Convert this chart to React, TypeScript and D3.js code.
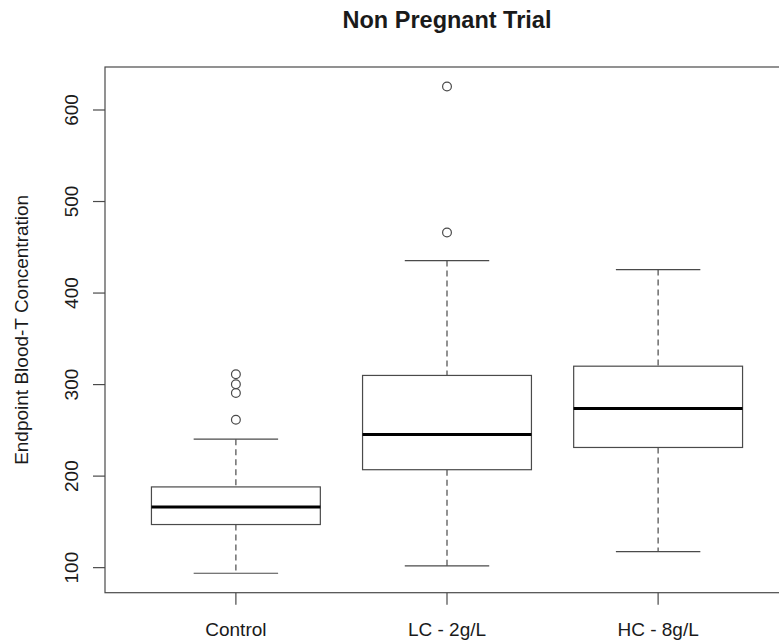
import React from "react";
import * as d3 from "d3";

const categories = ["Control", "LC - 2g/L", "HC - 8g/L"];
const lowerWhisker = [93.9, 102, 117.5];
const q1 = [147.1, 207, 231.3];
const medians = [166.2, 245.5, 274];
const q3 = [188.2, 310, 320.1];
const upperWhisker = [240.4, 435.5, 425.6];
const outliers: number[][] = [
  [261.6, 290.8, 300.3, 311.3],
  [466.2, 625.7],
  [],
];
const yTicks = [100, 200, 300, 400, 500, 600];

const W = 779;
const H = 644;
const left = 105;
const right = 789;
const top = 67;
const bottom = 592.7;
const FONT = "Liberation Sans, Arial, Helvetica, sans-serif";

export default function App() {
  const allVals = [...lowerWhisker, ...upperWhisker, ...outliers.flat()];
  const lo = d3.min(allVals)!;
  const hi = d3.max(allVals)!;
  const pad = (hi - lo) * 0.04;
  const y = d3.scaleLinear().domain([lo - pad, hi + pad]).range([bottom, top]);
  const x = d3.scaleLinear().domain([0.38, 3.62]).range([left, right]);
  const unit = x(1) - x(0);
  const bw = 0.8 * unit;
  const sw = 0.4 * unit;
  const stroke = "#4a4a4a";
  const textColor = "#1a1a1a";

  return (
    <svg
      width={W}
      height={H}
      style={{ position: "absolute", left: 0, top: 0, background: "#fff" }}
    >
      <rect x={0} y={0} width={W} height={H} fill="#fff" />
      <text
        x={(left + right) / 2}
        y={28}
        textAnchor="middle"
        fontFamily={FONT}
        fontWeight="bold"
        fontSize={23.5}
        fill={textColor}
      >
        Non Pregnant Trial
      </text>

      {categories.map((c, i) => {
        const cx = x(i + 1);
        return (
          <g key={c}>
            <line
              x1={cx}
              x2={cx}
              y1={y(upperWhisker[i])}
              y2={y(q3[i])}
              stroke={stroke}
              strokeWidth={1.2}
              strokeDasharray="6,4"
            />
            <line
              x1={cx}
              x2={cx}
              y1={y(q1[i])}
              y2={y(lowerWhisker[i])}
              stroke={stroke}
              strokeWidth={1.2}
              strokeDasharray="6,4"
            />
            <line
              x1={cx - sw / 2}
              x2={cx + sw / 2}
              y1={y(upperWhisker[i])}
              y2={y(upperWhisker[i])}
              stroke={stroke}
              strokeWidth={1.2}
            />
            <line
              x1={cx - sw / 2}
              x2={cx + sw / 2}
              y1={y(lowerWhisker[i])}
              y2={y(lowerWhisker[i])}
              stroke={stroke}
              strokeWidth={1.2}
            />
            <rect
              x={cx - bw / 2}
              y={y(q3[i])}
              width={bw}
              height={y(q1[i]) - y(q3[i])}
              fill="#fff"
              stroke={stroke}
              strokeWidth={1.2}
            />
            <line
              x1={cx - bw / 2}
              x2={cx + bw / 2}
              y1={y(medians[i])}
              y2={y(medians[i])}
              stroke="#000"
              strokeWidth={3}
            />
            {outliers[i].map((v, k) => (
              <circle
                key={k}
                cx={cx}
                cy={y(v)}
                r={4.4}
                fill="none"
                stroke={stroke}
                strokeWidth={1.2}
              />
            ))}
            <line
              x1={cx}
              x2={cx}
              y1={bottom}
              y2={bottom + 12}
              stroke={stroke}
              strokeWidth={1.2}
            />
            <text
              x={cx}
              y={636}
              textAnchor="middle"
              fontFamily={FONT}
              fontSize={19}
              fill={textColor}
            >
              {c}
            </text>
          </g>
        );
      })}

      <rect
        x={left}
        y={top}
        width={right - left}
        height={bottom - top}
        fill="none"
        stroke={stroke}
        strokeWidth={1.2}
      />

      {yTicks.map((t) => (
        <g key={t}>
          <line
            x1={left - 12}
            x2={left}
            y1={y(t)}
            y2={y(t)}
            stroke={stroke}
            strokeWidth={1.2}
          />
          <text
            transform={`translate(78,${y(t)}) rotate(-90)`}
            textAnchor="middle"
            fontFamily={FONT}
            fontSize={19}
            fill={textColor}
          >
            {t}
          </text>
        </g>
      ))}

      <text
        transform={`translate(28,${(top + bottom) / 2}) rotate(-90)`}
        textAnchor="middle"
        fontFamily={FONT}
        fontSize={19}
        fill={textColor}
      >
        Endpoint Blood-T Concentration
      </text>
    </svg>
  );
}
